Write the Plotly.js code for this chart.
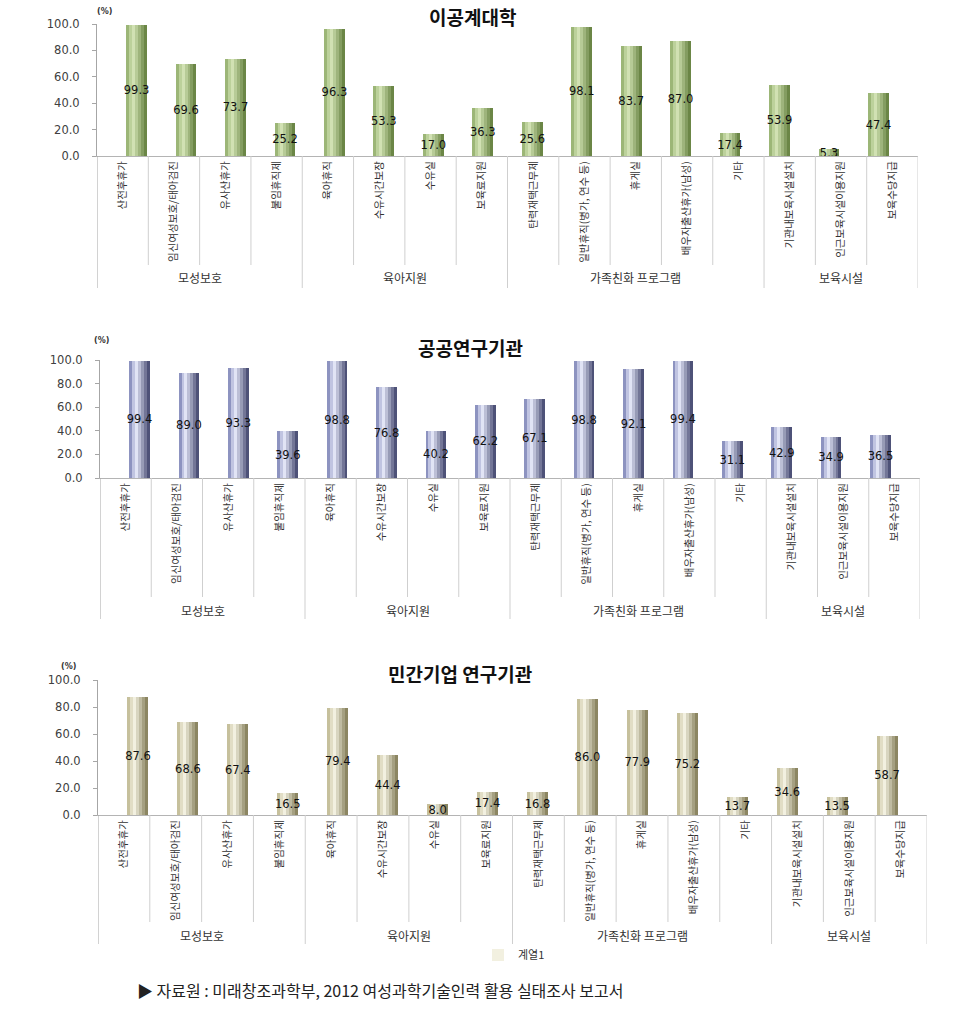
<!DOCTYPE html>
<html><head><meta charset="utf-8">
<script src="https://cdn.plot.ly/plotly-3.0.1.min.js"></script>
<style>html,body{margin:0;padding:0;background:#fff}#chart{width:964px;height:1019px}</style>
</head><body><div id="chart"></div>
<script>
// ---------------- data ----------------
const categories = ['산전후휴가','임신여성보호/태아검진','유사산휴가','불임휴직제','육아휴직','수유시간보장','수유실','보육료지원','탄력재택근무제','일반휴직(병가, 연수 등)','휴게실','배우자출산휴가(남성)','기타','기관내보육시설설치','인근보육시설이용지원','보육수당지급'];
const groups = ['모성보호','육아지원','가족친화 프로그램','보육시설'];
const groupSizes = [4, 4, 5, 3];
const titles = ['이공계대학', '공공연구기관', '민간기업 연구기관'];
const engineeringUniv = [99.3, 69.6, 73.7, 25.2, 96.3, 53.3, 17.0, 36.3, 25.6, 98.1, 83.7, 87.0, 17.4, 53.9, 5.3, 47.4];
const publicInst      = [99.4, 89.0, 93.3, 39.6, 98.8, 76.8, 40.2, 62.2, 67.1, 98.8, 92.1, 99.4, 31.1, 42.9, 34.9, 36.5];
const privateInst     = [87.6, 68.6, 67.4, 16.5, 79.4, 44.4, 8.0, 17.4, 16.8, 86.0, 77.9, 75.2, 13.7, 34.6, 13.5, 58.7];
const yTicks = [0, 20, 40, 60, 80, 100];
const seriesName = '계열1';
const unitLabel = '(%)';
const sourceNote = '▶ 자료원 : 미래창조과학부, 2012 여성과학기술인력 활용 실태조사 보고서';

// ---------------- layout geometry (pixels) ----------------
const W = 964, H = 1019;
const panels = [
  {vals: engineeringUniv, x0: 97, x1: 918, yTop: 24, yBot: 156, divBot: 265, grpBot: 288, grpY: 278, titleX: 472, titleY: 17, pctX: 104, pctY: 12,
   pal: {l: '#9cb677', h: '#d6e6b8', r: '#6b8646'}},
  {vals: publicInst, x0: 100, x1: 920, yTop: 360, yBot: 478, divBot: 597, grpBot: 619, grpY: 610, titleX: 470, titleY: 347, pctX: 101, pctY: 340,
   pal: {l: '#8d93c0', h: '#e8ebfb', r: '#4e5278'}},
  {vals: privateInst, x0: 98, x1: 927, yTop: 680, yBot: 815, divBot: 922, grpBot: 944, grpY: 935, titleX: 460, titleY: 673, pctX: 68, pctY: 666,
   pal: {l: '#c6c09c', h: '#f7f5e6', r: '#8c8662'}}
];
const px = x => x / W;
const py = y => 1 - y / H;

function hexToRgb(h){ const n = parseInt(h.slice(1), 16); return [(n>>16)&255, (n>>8)&255, n&255]; }
function mix(a, b, t){ const A = hexToRgb(a), B = hexToRgb(b);
  return 'rgb(' + A.map((v,i)=>Math.round(v + (B[i]-v)*t)).join(',') + ')'; }
function shade(p, t){ return t < 0.3 ? mix(p.l, p.h, t/0.3) : mix(p.h, p.r, (t-0.3)/0.7); }

const idx = categories.map((_, i) => i);
const traces = [];
const layout = {
  width: W, height: H, margin: {l: 0, r: 0, t: 0, b: 0},
  paper_bgcolor: '#fff', plot_bgcolor: 'rgba(0,0,0,0)',
  barmode: 'overlay', bargap: 0,
  showlegend: true,
  legend: {x: px(478), y: py(955), xanchor: 'left', yanchor: 'middle', orientation: 'h',
           font: {family: 'Noto Sans CJK KR', size: 11, color: '#333'}, bgcolor: 'rgba(0,0,0,0)', itemwidth: 30},
  annotations: [], shapes: []
};

const N = 7, BW = 0.42;
panels.forEach((p, k) => {
  const catAx = 'xaxis' + (k === 0 ? '' : (2*k + 1));
  const barAx = 'xaxis' + (2*k + 2);
  const yAx = 'yaxis' + (k === 0 ? '' : (k + 1));
  const catRef = 'x' + (k === 0 ? '' : (2*k + 1));
  const barRef = 'x' + (2*k + 2);
  const yRef = 'y' + (k === 0 ? '' : (k + 1));

  layout[catAx] = {domain: [px(p.x0), px(p.x1)], anchor: yRef, range: [-0.5, categories.length - 0.5],
    tickmode: 'array', tickvals: idx, ticktext: categories, tickangle: -90, ticks: '',
    showline: true, linecolor: '#b4b4b4', linewidth: 1, showgrid: false, zeroline: false,
    tickfont: {family: 'Noto Sans CJK KR', size: 10.5, color: '#333'}, fixedrange: true};
  layout[barAx] = {overlaying: catRef, anchor: yRef, range: [-0.8, categories.length - 0.2],
    visible: false, showgrid: false, zeroline: false, fixedrange: true};
  layout[yAx] = {domain: [py(p.yBot), py(p.yTop)], anchor: catRef, range: [0, 100],
    tickmode: 'array', tickvals: yTicks, tickformat: '.1f', ticks: 'outside', ticklen: 4, tickcolor: '#a6a6a6',
    ticklabelstandoff: 10,
    showline: true, linecolor: '#a6a6a6', linewidth: 1, showgrid: false, zeroline: false,
    tickfont: {family: 'DejaVu Sans', size: 11.5, color: '#404040'}, fixedrange: true};

  // cylinder-like shading: each strip runs from its start to the bar's right edge, later strips on top
  for (let s = 0; s < N; s++) {
    const w = BW / N;
    traces.push({type: 'bar', x: idx, y: p.vals, xaxis: barRef, yaxis: yRef,
      width: BW - s*w, offset: -BW/2 + s*w,
      marker: {color: shade(p.pal, s/(N-1)), line: {width: 0}, opacity: 1},
      name: seriesName, showlegend: (k === 2 && s === 2), hoverinfo: 'skip', textposition: 'none'});
  }
  // value labels
  traces.push({type: 'bar', x: idx, y: p.vals, xaxis: barRef, yaxis: yRef, width: BW,
    marker: {color: 'rgba(0,0,0,0)', line: {width: 0}},
    text: p.vals.map(v => v.toFixed(1)), textposition: 'inside', insidetextanchor: 'middle',
    textangle: 0, constraintext: 'none', cliponaxis: false,
    textfont: {family: 'DejaVu Sans', size: 11.5, color: '#111'},
    showlegend: false, hoverinfo: 'skip'});

  // title, unit
  layout.annotations.push({text: '<b>' + titles[k] + '</b>', xref: 'paper', yref: 'paper', x: px(p.titleX), y: py(p.titleY),
    xanchor: 'center', yanchor: 'middle', showarrow: false, font: {family: 'Noto Sans CJK KR', size: 19, color: '#111'}});
  layout.annotations.push({text: '<b>' + unitLabel + '</b>', xref: 'paper', yref: 'paper', x: px(p.pctX), y: py(p.pctY),
    xanchor: 'center', yanchor: 'middle', showarrow: false, font: {family: 'DejaVu Sans', size: 8, color: '#333'}});

  // category dividers and group labels
  let start = 0;
  const bounds = new Set();
  groupSizes.forEach((n, g) => {
    layout.annotations.push({text: groups[g], xref: catRef, yref: 'paper', x: start + (n - 1)/2, y: py(p.grpY),
      xanchor: 'center', yanchor: 'middle', showarrow: false, font: {family: 'Noto Sans CJK KR', size: 12, color: '#333'}});
    start += n; bounds.add(start);
  });
  for (let b = 0; b <= categories.length; b++) {
    const isGroup = b === 0 || bounds.has(b);
    layout.shapes.push({type: 'line', xref: catRef, yref: 'paper', x0: b - 0.5, x1: b - 0.5,
      y0: py(p.yBot), y1: py(isGroup ? p.grpBot : p.divBot),
      line: {color: (b === 0) ? '#a6a6a6' : '#cfcfcf', width: 1}});
  }
});

layout.annotations.push({text: sourceNote, xref: 'paper', yref: 'paper', x: px(135), y: py(990),
  xanchor: 'left', yanchor: 'middle', showarrow: false, font: {family: 'Noto Sans CJK KR', size: 16, color: '#222'}});

Plotly.newPlot('chart', traces, layout, {staticPlot: true, displayModeBar: false});
</script>
</body></html>
